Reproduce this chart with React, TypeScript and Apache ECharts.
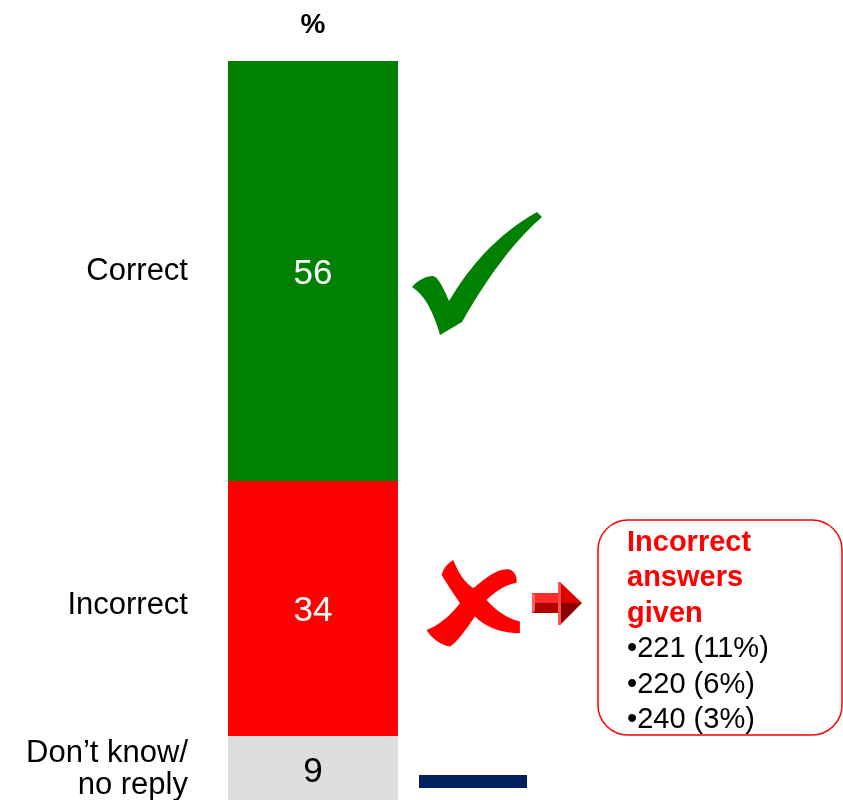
import React, { useEffect, useRef } from "react";
import * as echarts from "echarts";

const axisTitle = ["%"];
const categories = ["Correct", "Incorrect", "Don\u2019t know/\nno reply"];
const values = [56, 34, 9];
const colors = ["#008000", "#ff0000", "#dddddd"];
const valueLabelColors = ["#ffffff", "#ffffff", "#000000"];
const incorrectAnswers = ["221", "220", "240"];
const incorrectShares = [11, 6, 3];
const calloutTitle = ["Incorrect", "answers", "given"];

const FONT = "'Liberation Sans', Arial, Helvetica, sans-serif";

echarts.graphic.registerShape(
  "check",
  echarts.graphic.extendPath(
    "M12,87 C18,80 26,76 33,76 C38,77 42,85 49,101 C72,62 100,33 137,12 L142,17 C112,43 86,80 62,122 L40,135 C34,114 26,96 12,87 Z",
    {}
  )
);

echarts.graphic.registerShape(
  "cross",
  echarts.graphic.extendPath(
    "M100,30 C110,55 125,90 160,115 C190,90 230,55 265,58 C285,62 292,80 290,98 C255,105 225,125 200,150 C230,185 265,205 300,215 L300,250 C250,250 200,235 165,200 C140,235 115,275 90,290 C60,285 30,260 20,240 C50,230 90,200 120,160 C100,130 80,100 65,75 C70,55 85,38 100,30 Z",
    {}
  )
);

export default function App() {
  const ref = useRef<HTMLDivElement>(null);
  useEffect(() => {
    if (!ref.current) return;
    const chart = echarts.init(ref.current, null, { renderer: "svg" });

    // stacking order bottom -> top
    const order = [2, 1, 0];
    const valueSeries = order.map((i) => ({
      type: "bar",
      name: categories[i],
      stack: "values",
      barWidth: 170,
      barGap: "-100%",
      data: [values[i]],
      itemStyle: { color: colors[i] },
      emphasis: { disabled: true },
      label: {
        show: true,
        position: "inside",
        fontSize: 35,
        fontFamily: FONT,
        color: valueLabelColors[i],
        formatter: "{c}",
      },
      z: 2,
    }));
    const labelSeries = order.map((i) => ({
      type: "bar",
      name: categories[i],
      stack: "labels",
      barWidth: 170,
      barGap: "-100%",
      data: [values[i]],
      itemStyle: { color: "rgba(0,0,0,0)" },
      emphasis: { disabled: true },
      label: {
        show: true,
        position: "left",
        distance: 40,
        fontSize: 31,
        lineHeight: 32,
        fontFamily: FONT,
        color: "#000000",
        align: "right",
        offset: i === 1 ? [0, -5] : [0, -2],
        formatter: "{a}",
      },
      z: 3,
    }));

    const calloutText =
      calloutTitle.map((t) => `{t|${t}}`).join("\n") +
      "\n" +
      incorrectAnswers
        .map((a, k) => `{i|\u2022${a} (${incorrectShares[k]}%)}`)
        .join("\n");

    chart.setOption({
      animation: false,
      grid: { left: 228, top: 61, width: 170, height: 742.5 },
      xAxis: {
        type: "category",
        data: axisTitle,
        position: "top",
        axisLine: { show: false },
        axisTick: { show: false },
        axisLabel: {
          fontSize: 28,
          fontWeight: "bold",
          fontFamily: FONT,
          color: "#000",
          margin: 24,
          offset: [-5, 0],
        },
      },
      yAxis: { type: "value", min: 0, max: 99, show: false },
      series: [...valueSeries, ...labelSeries],
      graphic: [
        {
          type: "check",
          x: 400,
          y: 200,
          style: { fill: "#008000" },
        },
        {
          type: "cross",
          x: 420,
          y: 550,
          scaleX: 1 / 3,
          scaleY: 1 / 3,
          style: { fill: "#ff0000" },
        },
        {
          type: "group",
          x: 420,
          y: 550,
          children: [
            {
              type: "polygon",
              shape: { points: [[112, 43], [140, 43], [140, 53], [112, 53]] },
              style: { fill: "#ff2a2a" },
            },
            {
              type: "polygon",
              shape: { points: [[112, 53], [140, 53], [140, 63], [112, 63]] },
              style: { fill: "#b00000" },
            },
            {
              type: "polygon",
              shape: { points: [[112, 43], [115, 45], [115, 61], [112, 63]] },
              style: { fill: "#ff6060" },
            },
            {
              type: "polygon",
              shape: { points: [[140, 32], [162, 53], [140, 53]] },
              style: { fill: "#e00000" },
            },
            {
              type: "polygon",
              shape: { points: [[140, 53], [162, 53], [140, 75]] },
              style: { fill: "#8a0000" },
            },
            {
              type: "polygon",
              shape: { points: [[138, 32], [141, 32], [141, 75], [138, 75]] },
              style: { fill: "#ff5050" },
            },
          ],
        },
        {
          type: "rect",
          shape: { x: 598, y: 520, width: 244, height: 215, r: 30 },
          style: { fill: "#ffffff", stroke: "#ff0000", lineWidth: 1.5 },
        },
        {
          type: "text",
          x: 627,
          y: 523,
          style: {
            text: calloutText,
            fontFamily: FONT,
            rich: {
              t: { fontSize: 29, fontWeight: "bold", fill: "#ff0000", lineHeight: 35.5, fontFamily: FONT },
              i: { fontSize: 29, fill: "#000000", lineHeight: 35.5, fontFamily: FONT },
            },
          },
        },
        {
          type: "rect",
          shape: { x: 419, y: 775, width: 108, height: 13 },
          style: { fill: "#002060" },
        },
      ],
    });
    return () => chart.dispose();
  }, []);
  return (
    <div
      ref={ref}
      style={{ position: "fixed", left: 0, top: 0, width: 843, height: 804 }}
    />
  );
}
